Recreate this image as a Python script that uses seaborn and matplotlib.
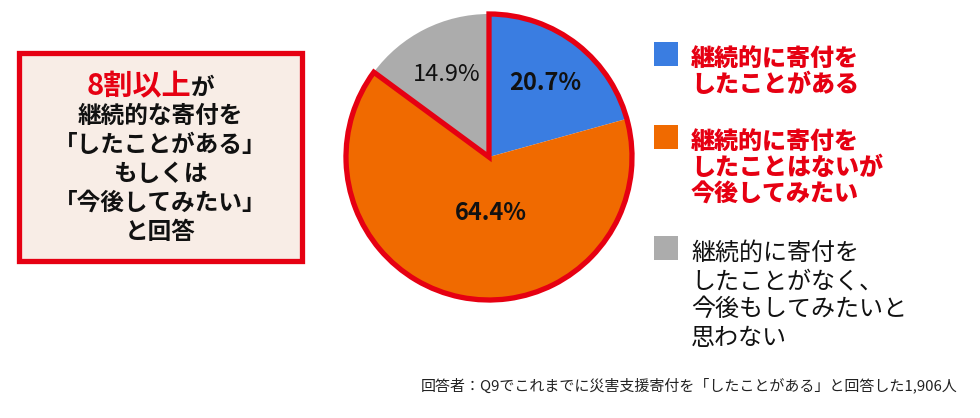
#!/usr/bin/python
# -*- coding: utf-8 -*-
"""Pie chart: continuous donation intention"""

import seaborn as sns
import matplotlib.pyplot as plt
from matplotlib.patches import Wedge, Rectangle


LABELS = ['継続的に寄付を\nしたことがある',
          '継続的に寄付を\nしたことはないが\n今後してみたい',
          '継続的に寄付を\nしたことがなく、\n今後もしてみたいと\n思わない']
SHARES = [20.7, 64.4, 14.9]
COLORS = ['#3a7de1', '#f06a00', '#acacac']
LABEL_RED = [True, True, False]

BOX_LINES = ['継続的な寄付を', '「したことがある」', 'もしくは', '「今後してみたい」', 'と回答']
NOTE = '回答者：Q9でこれまでに災害支援寄付を「したことがある」と回答した1,906人'

RED = '#e60012'
W, H = 980, 418

sns.set_theme(style="white")
plt.rcParams['font.family'] = ['Noto Sans CJK JP', 'DejaVu Sans']

fig = plt.figure(figsize=(W / 100, H / 100), dpi=100)

# pie axes: centre (489,157) px, radius 143 px
half = 165
ax = fig.add_axes([(489 - half) / W, (H - 157 - half) / H, 2 * half / W, 2 * half / H])
lim = half / 143

palette = sns.color_palette(COLORS)
wedges, texts, autotexts = ax.pie(
    SHARES, colors=palette, startangle=90, counterclock=False,
    autopct='%.1f%%', pctdistance=0.65, radius=1.0,
    wedgeprops=dict(linewidth=0), textprops=dict(fontsize=17, color='#111111'))
ax.set_xlim(-lim, lim)
ax.set_ylim(-lim, lim)
ax.set_aspect('equal')
ax.axis('off')

autotexts[0].set_fontweight('bold')
autotexts[1].set_fontweight('bold')
autotexts[1].set_position((0.01, -0.39))

# red outline around the first two slices
gray_start = 90 + SHARES[2] / sum(SHARES) * 360
ax.add_patch(Wedge((0, 0), 1.0, gray_start, 450, fill=False,
                   edgecolor=RED, linewidth=3.8, joinstyle='miter'))

# left summary box
fig.add_artist(Rectangle((19 / W, (H - 261) / H), 283 / W, 208 / H,
                         transform=fig.transFigure, facecolor='#f8ede6',
                         edgecolor=RED, linewidth=3.8))
split = 191 / W
fig.text(split, (H - 86) / H, '8割以上', color=RED, fontsize=21,
         fontweight='bold', ha='right', va='center')
fig.text(split, (H - 88) / H, 'が', color='#111111', fontsize=17,
         fontweight='bold', ha='left', va='center')
cx = 160 / W
for i, line in enumerate(BOX_LINES):
    fig.text(cx, (H - 116 - i * 29) / H, line, color='#111111', fontsize=17,
             fontweight='bold', ha='center', va='center')

# legend
tops = [46, 129, 240]
for lab, col, top, red in zip(LABELS, palette, tops, LABEL_RED):
    fig.add_artist(Rectangle((654 / W, (H - top - 20) / H), 24 / W, 24 / H,
                             transform=fig.transFigure, facecolor=col,
                             edgecolor='none'))
    fig.text(691 / W, (H - top) / H, lab, color=RED if red else '#111111',
             fontsize=17.3, fontweight='black' if red else 'normal',
             ha='left', va='top', linespacing=1.11)

fig.text(958 / W, (H - 385) / H, NOTE, color='#222222', fontsize=10.8,
         ha='right', va='center')

fig.savefig('out.png', dpi=100, facecolor='white')
